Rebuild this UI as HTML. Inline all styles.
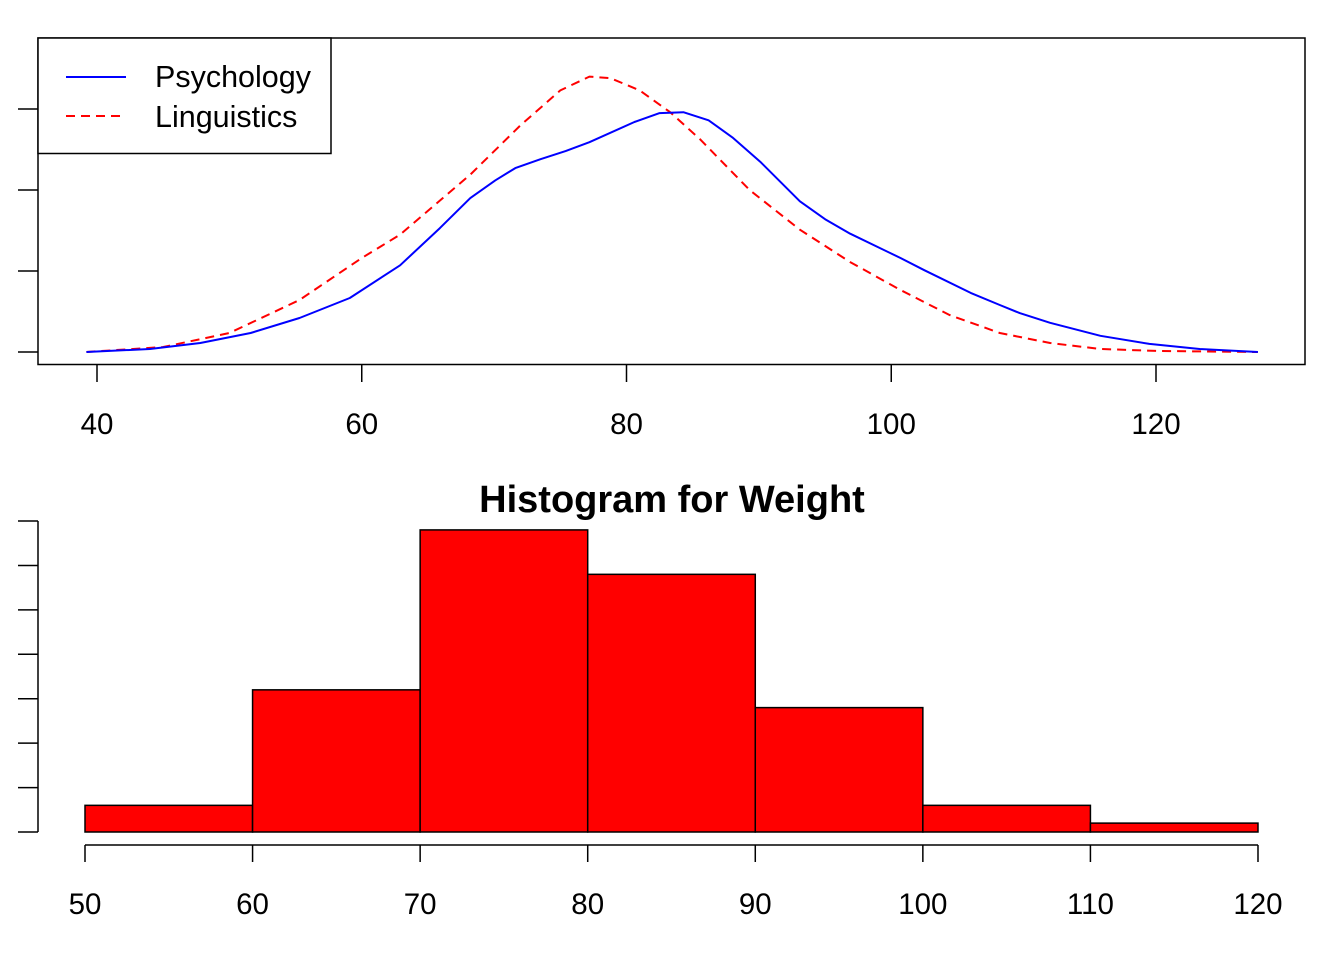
<!DOCTYPE html>
<html><head><meta charset="utf-8"><style>
html,body{margin:0;padding:0;background:#fff;}
svg{display:block;font-family:"Liberation Sans",sans-serif;}
</style></head><body>
<svg id="chart" width="1344" height="960" xmlns="http://www.w3.org/2000/svg">
<g id="topg"></g>
<g id="botg"></g>
</svg>
<script>
// ---- density data (x in kg, density ×1000) ----
const psyX=[39.2,44.0,47.8,51.6,55.3,59.1,62.9,65.9,68.2,70.1,71.6,73.5,75.4,77.2,80.6,82.5,84.3,86.2,88.0,90.1,93.1,95.0,96.9,100.7,102.5,106.0,108.2,109.7,112.0,115.8,119.5,123.3,127.7];
const psyY=[0,0.37,1.11,2.35,4.2,6.67,10.7,15.3,19.0,21.2,22.7,23.8,24.8,25.9,28.4,29.5,29.6,28.6,26.5,23.5,18.6,16.4,14.6,11.6,10.1,7.3,5.8,4.8,3.6,2.0,1.0,0.37,0];
const linX=[39.2,45.0,50.0,55.3,60,62.9,68.2,72.0,75.0,77.2,78.8,81.0,83.3,85.6,89.3,93.1,96.9,100.7,104.4,108.2,112.0,115.8,120.3,127.7];
const linY=[0,0.62,2.35,6.42,11.6,14.5,21.9,28.0,32.3,34.0,33.8,32.3,29.6,26.2,20.0,15.1,11.1,7.65,4.57,2.35,1.11,0.37,0.12,0];
const topXTicks=[40,60,80,100,120];
const topYTicks=[0,10,20,30];
// ---- histogram data ----
const binEdges=[50,60,70,80,90,100,110,120];
const counts=[3,16,34,29,14,3,1];
const histYTicks=[0,5,10,15,20,25,30,35];

const NS="http://www.w3.org/2000/svg";
function mk(parent,tag,attrs,text){const e=document.createElementNS(NS,tag);for(const k in attrs)e.setAttribute(k,attrs[k]);if(text!==undefined)e.textContent=text;parent.appendChild(e);return e;}
const topG=document.getElementById('topg'), botG=document.getElementById('botg');
const tx=v=>97+(v-40)*13.2375, ty=v=>352-v*8.1;
let e;
e=mk(topG,'rect',{x:38,y:38,width:1267,height:326.5,fill:'none',stroke:'#000','stroke-width':1.5});


topXTicks.forEach(v=>{
 e=mk(topG,'line',{x1:tx(v),x2:tx(v),y1:365,y2:382,stroke:'#000','stroke-width':1.5});
 
 
 e=mk(topG,'text',{x:tx(v),y:434,'text-anchor':'middle','font-size':29.5},String(v));
 
 
});
topYTicks.forEach(v=>{
 e=mk(topG,'line',{x1:18,x2:38,y1:ty(v),y2:ty(v),stroke:'#000','stroke-width':1.5});
 
 
});
function path(xs,ys){return xs.map((x,i)=>(i?'L':'M')+tx(x).toFixed(1)+','+ty(ys[i]).toFixed(1)).join(' ');}
e=mk(topG,'path',{d:path(linX,linY),fill:'none',stroke:'#ff0000','stroke-width':2,'stroke-dasharray':'9,6','stroke-linejoin':'round'});


e=mk(topG,'path',{d:path(psyX,psyY),fill:'none',stroke:'#0000ff','stroke-width':2,'stroke-linejoin':'round'});


const lg=mk(topG,'g',{});


mk(lg,'rect',{x:38,y:38,width:293,height:115.5,fill:'#fff',stroke:'#000','stroke-width':1.5});
mk(lg,'line',{x1:66,x2:126,y1:77,y2:77,stroke:'#0000ff','stroke-width':2});
mk(lg,'line',{x1:66,x2:126,y1:116,y2:116,stroke:'#ff0000','stroke-width':2,'stroke-dasharray':'9,6'});
e=mk(lg,'text',{x:155,y:87,'font-size':30.5},'Psychology');


e=mk(lg,'text',{x:155,y:127,'font-size':30.5},'Linguistics');



// histogram
const hx=v=>85+(v-50)*16.757, hy=v=>832-v*8.885;
e=mk(botG,'text',{x:672,y:512,'text-anchor':'middle','font-size':38,'font-weight':'bold'},'Histogram for Weight');


counts.forEach((c,i)=>{
 e=mk(botG,'rect',{x:hx(binEdges[i]),y:hy(c),width:hx(binEdges[i+1])-hx(binEdges[i]),height:hy(0)-hy(c),fill:'#ff0000',stroke:'#000','stroke-width':1.5});
 
 
});
e=mk(botG,'line',{x1:hx(binEdges[0]),x2:hx(binEdges[binEdges.length-1]),y1:845,y2:845,stroke:'#000','stroke-width':1.5});


binEdges.forEach(v=>{
 e=mk(botG,'line',{x1:hx(v),x2:hx(v),y1:845,y2:862,stroke:'#000','stroke-width':1.5});
 
 
 e=mk(botG,'text',{x:hx(v),y:914,'text-anchor':'middle','font-size':29.5},String(v));
 
 
});
e=mk(botG,'line',{x1:38,x2:38,y1:hy(histYTicks[histYTicks.length-1]),y2:hy(0),stroke:'#000','stroke-width':1.5});


histYTicks.forEach(v=>{
 e=mk(botG,'line',{x1:18,x2:38,y1:hy(v),y2:hy(v),stroke:'#000','stroke-width':1.5});
 
 
});
</script>
</body></html>
